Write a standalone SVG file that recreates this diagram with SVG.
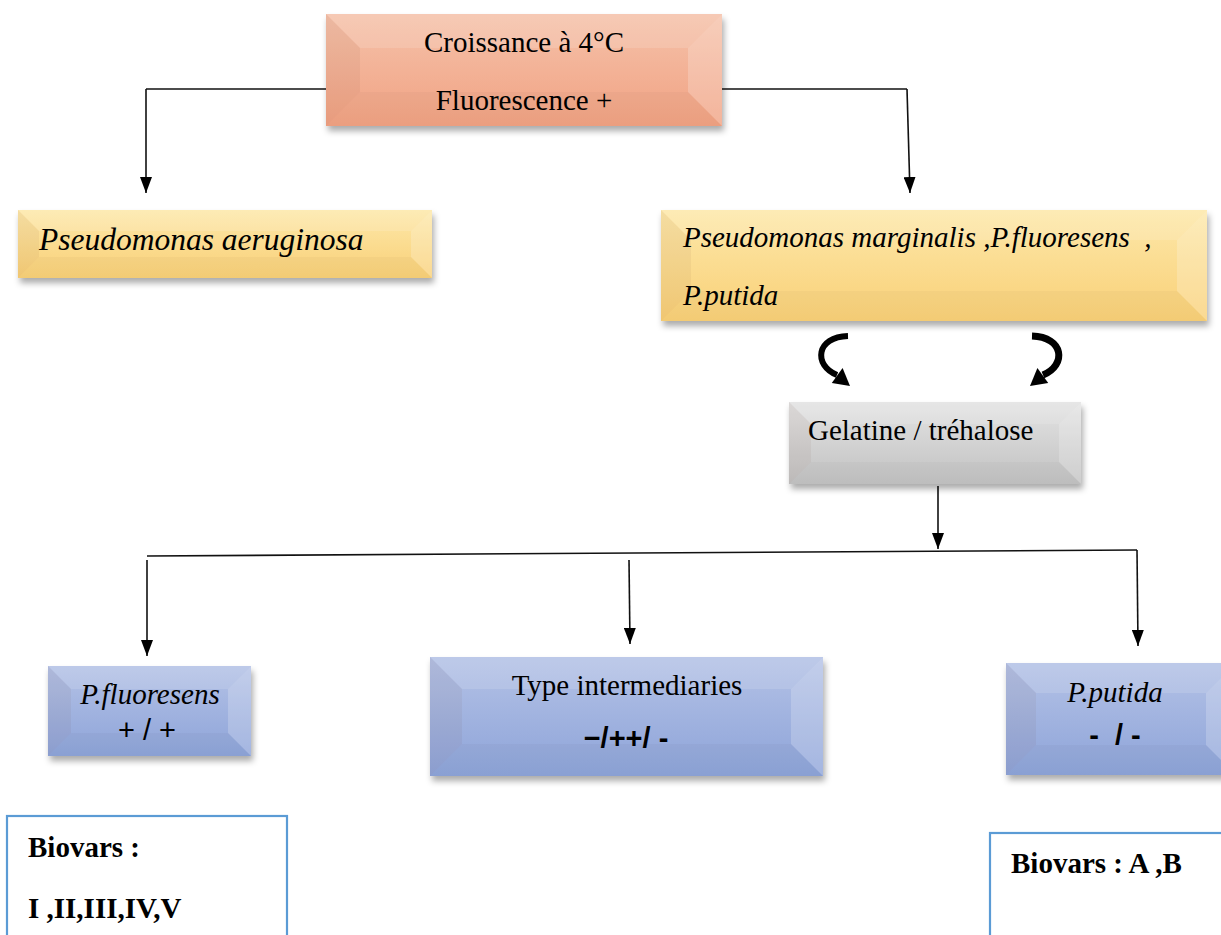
<svg xmlns="http://www.w3.org/2000/svg" width="1221" height="935" viewBox="0 0 1221 935">
<style>
.t{font-family:"Liberation Serif","Times New Roman",serif;font-size:29px;fill:#000}
.i{font-style:italic}
.b{font-weight:bold}
.s{font-family:"Liberation Sans",Arial,sans-serif;font-size:29px;fill:#000}
.m{text-anchor:middle}
.ln{stroke:#111;stroke-width:1.6;fill:none}
.hl{fill:#fff;opacity:.13}
.hr{fill:#fff;opacity:.2}
.dl{fill:#6b3a20;opacity:.06}
.db{fill:#000;opacity:.025}
.bx{fill:#fff;stroke:#5b9bd5;stroke-width:2.2}
</style>
<defs>
<linearGradient id="gS" x1="0" y1="0" x2="0" y2="1"><stop offset="0" stop-color="#f5c2aa"/><stop offset="1" stop-color="#f1a283"/></linearGradient>
<linearGradient id="gY" x1="0" y1="0" x2="0" y2="1"><stop offset="0" stop-color="#fde8aa"/><stop offset="1" stop-color="#f9d077"/></linearGradient>
<linearGradient id="gG" x1="0" y1="0" x2="0" y2="1"><stop offset="0" stop-color="#e3e3e3"/><stop offset="1" stop-color="#c2c2c2"/></linearGradient>
<linearGradient id="gB" x1="0" y1="0" x2="0" y2="1"><stop offset="0" stop-color="#b4c2e6"/><stop offset="1" stop-color="#8ea4d9"/></linearGradient>
<filter id="sh" x="-10%" y="-20%" width="120%" height="150%"><feDropShadow dx="2" dy="5" stdDeviation="3" flood-color="#000" flood-opacity="0.33"/></filter>
<marker id="ar" viewBox="0 0 16 12" refX="16" refY="6" markerWidth="16" markerHeight="12" markerUnits="userSpaceOnUse" orient="auto"><path d="M0,0 L16,6 L0,12 z" fill="#000"/></marker>
</defs>

<g id="connectors">
<path class="ln" d="M326,89 H146"/>
<path class="ln" d="M146,89 V193" marker-end="url(#ar)"/>
<path class="ln" d="M722,89 H907"/>
<path class="ln" d="M907,89 L910,193" marker-end="url(#ar)"/>
<path class="ln" d="M938,486 V549" marker-end="url(#ar)"/>
<path class="ln" d="M147,556 L1137,550"/>
<path class="ln" d="M147,560 V656" marker-end="url(#ar)"/>
<path class="ln" d="M629,560 L630,644" marker-end="url(#ar)"/>
<path class="ln" d="M1137,550 L1138,646" marker-end="url(#ar)"/>
<path d="M848,336 C816,337 813,365 837,375" fill="none" stroke="#000" stroke-width="6"/>
<polygon points="850,386 831.8,383 842.6,368" fill="#000"/>
<path d="M1032,336 C1064,337 1067,365 1043,375" fill="none" stroke="#000" stroke-width="7"/>
<polygon points="1030,386 1048.2,383 1037.4,368" fill="#000"/>
</g>

<g id="n-croissance">
<rect x="326" y="14" width="396" height="112" fill="url(#gS)" filter="url(#sh)"/>
<polygon class="hl" points="326,14 722,14 688,48 360,48"/>
<polygon class="db" points="326,126 722,126 688,92 360,92"/>
<polygon class="dl" points="326,14 360,48 360,92 326,126"/>
<polygon class="hr" points="722,14 688,48 688,92 722,126"/>
<text class="t m" x="524" y="52">Croissance à 4°C</text>
<text class="t m" x="524" y="110">Fluorescence +</text>
</g>

<g id="n-aeruginosa">
<rect x="18" y="210" width="414" height="68" fill="url(#gY)" filter="url(#sh)"/>
<polygon class="hl" points="18,210 432,210 411,231 39,231"/>
<polygon class="db" points="18,278 432,278 411,257 39,257"/>
<polygon class="dl" points="18,210 39,231 39,257 18,278"/>
<polygon class="hr" points="432,210 411,231 411,257 432,278"/>
<text class="t i" x="39" y="250" style="font-size:31.5px">Pseudomonas aeruginosa</text>
</g>

<g id="n-marginalis">
<rect x="661" y="210" width="546" height="111" fill="url(#gY)" filter="url(#sh)"/>
<polygon class="hl" points="661,210 1207,210 1177,240 691,240"/>
<polygon class="db" points="661,321 1207,321 1177,291 691,291"/>
<polygon class="dl" points="661,210 691,240 691,291 661,321"/>
<polygon class="hr" points="1207,210 1177,240 1177,291 1207,321"/>
<text class="t i" x="683" y="247" xml:space="preserve">Pseudomonas marginalis ,P.fluoresens  ,</text>
<text class="t i" x="683" y="305">P.putida</text>
</g>

<g id="n-gelatine">
<rect x="789" y="402" width="292" height="82" fill="url(#gG)" filter="url(#sh)"/>
<polygon class="hl" points="789,402 1081,402 1059,424 811,424"/>
<polygon class="db" points="789,484 1081,484 1059,462 811,462"/>
<polygon class="dl" points="789,402 811,424 811,462 789,484"/>
<polygon class="hr" points="1081,402 1059,424 1059,462 1081,484"/>
<text class="t" x="808" y="440">Gelatine / tréhalose</text>
</g>

<g id="n-fluoresens">
<rect x="48" y="666" width="203" height="90" fill="url(#gB)" filter="url(#sh)"/>
<polygon class="hl" points="48,666 251,666 228,689 71,689"/>
<polygon class="db" points="48,756 251,756 228,733 71,733"/>
<polygon class="dl" points="48,666 71,689 71,733 48,756"/>
<polygon class="hr" points="251,666 228,689 228,733 251,756"/>
<text class="t i m" x="150" y="704">P.fluoresens</text>
<text class="s m" x="147" y="740">+ / +</text>
</g>

<g id="n-intermediaries">
<rect x="430" y="657" width="393" height="119" fill="url(#gB)" filter="url(#sh)"/>
<polygon class="hl" points="430,657 823,657 791,689 462,689"/>
<polygon class="db" points="430,776 823,776 791,744 462,744"/>
<polygon class="dl" points="430,657 462,689 462,744 430,776"/>
<polygon class="hr" points="823,657 791,689 791,744 823,776"/>
<text class="t m" x="627" y="695">Type intermediaries</text>
<text class="s b m" x="626" y="748">−/++/ -</text>
</g>

<g id="n-putida">
<rect x="1006" y="663" width="230" height="112" fill="url(#gB)" filter="url(#sh)"/>
<polygon class="hl" points="1006,663 1236,663 1206,693 1036,693"/>
<polygon class="db" points="1006,775 1236,775 1206,745 1036,745"/>
<polygon class="dl" points="1006,663 1036,693 1036,745 1006,775"/>
<polygon class="hr" points="1236,663 1206,693 1206,745 1236,775"/>
<text class="t i m" x="1115" y="702">P.putida</text>
<text class="s b m" x="1115" y="745" xml:space="preserve">-  / -</text>
</g>

<g id="n-biovars-left">
<rect class="bx" x="7" y="816" width="280" height="140"/>
<text class="t b" x="28" y="857">Biovars :</text>
<text class="t b" x="28" y="918">I ,II,III,IV,V</text>
</g>

<g id="n-biovars-right">
<rect class="bx" x="990" y="833" width="260" height="130"/>
<text class="t b" x="1011" y="873">Biovars : A ,B</text>
</g>
</svg>
